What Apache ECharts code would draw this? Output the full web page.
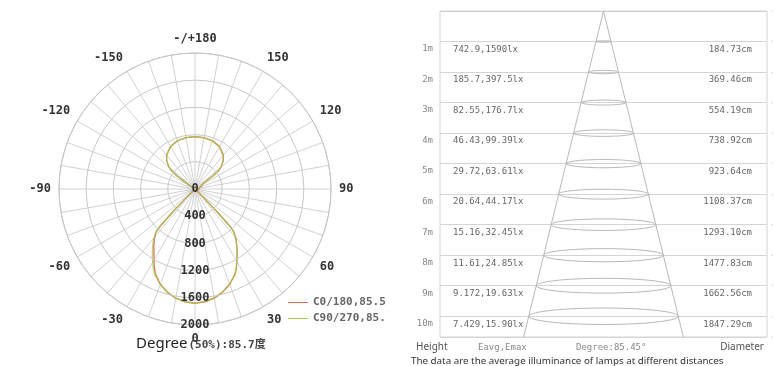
<!DOCTYPE html>
<html>
<head>
<meta charset="utf-8">
<script src="https://cdn.jsdelivr.net/npm/echarts@6/dist/echarts.min.js"></script>
<style>
  html, body { margin: 0; padding: 0; background: #fff; }
  #chart { width: 774px; height: 366px; }
</style>
</head>
<body>
<div id="chart"></div>
<script>
  // light distribution curve, 0 = straight down, positive = to the right
  const angles = [-180, -170, -160, -150, -140, -135, -130, -128, -126, -124, -122, -110, -90, -70, -50,
    -48, -46, -45, -44, -43, -42, -39, -36, -32, -28, -25, -20, -15, -10, -5, 0,
    5, 10, 15, 20, 25, 28, 32, 36, 39, 42, 43, 44, 45, 46, 48,
    50, 70, 90, 110, 122, 124, 126, 128, 130, 135, 140, 150, 160, 170, 180]
  const c0 = [770, 768, 755, 720, 650, 590, 500, 440, 330, 150, 0, 0, 0, 0, 0,
    0, 40, 200, 500, 780, 860, 950, 1030, 1140, 1280, 1380, 1490, 1570, 1630, 1665, 1680,
    1665, 1630, 1570, 1490, 1390, 1300, 1170, 1050, 960, 860, 780, 500, 200, 40, 0,
    0, 0, 0, 0, 0, 150, 330, 440, 500, 590, 650, 720, 755, 768, 770]
  const c90 = [770, 768, 755, 720, 650, 590, 500, 440, 330, 150, 0, 0, 0, 0, 0,
    0, 40, 200, 500, 780, 860, 975, 1065, 1185, 1310, 1395, 1495, 1575, 1630, 1665, 1680,
    1660, 1625, 1565, 1485, 1385, 1295, 1165, 1045, 955, 855, 770, 490, 190, 30, 0,
    0, 0, 0, 0, 0, 140, 320, 435, 495, 585, 645, 715, 750, 763, 765]
  const seriesNames = ['C0/180,85.5', 'C90/270,85.']

  // illuminance at distance
  const heights = [1, 2, 3, 4, 5, 6, 7, 8, 9, 10]
  const eavg = ['742.9', '185.7', '82.55', '46.43', '29.72', '20.64', '15.16', '11.61', '9.172', '7.429']
  const emax = ['1590', '397.5', '176.7', '99.39', '63.61', '44.17', '32.45', '24.85', '19.63', '15.90']
  const diameters = [184.73, 369.46, 554.19, 738.92, 923.64, 1108.37, 1293.10, 1477.83, 1662.56, 1847.29]

  const mono = '"DejaVu Sans Mono", "Liberation Mono", monospace'
  const sans = '"Noto Sans", "Open Sans", "Noto Sans CJK SC", sans-serif'
  const depth = 10.68

  const coneR = diameters[9] / 2 / heights[9] * depth

  let myChart = echarts.init(document.getElementById('chart'))
  myChart.setOption({
    backgroundColor: '#fff',
    animation: false,
    title: [
      {
        text: '{a|Degree}{b|(50%):85.7度}',
        left: 131,
        top: 331,
        textStyle: {
          rich: {
            a: { fontFamily: sans, fontSize: 15, fontWeight: 'normal', color: '#222' },
            b: { fontFamily: mono + ', "Noto Sans CJK SC"', fontSize: 11, fontWeight: 'bold', color: '#444', padding: [4, 0, 0, 1] }
          }
        }
      },
      { text: 'Height', left: 411, top: 337, textStyle: { fontFamily: sans, fontSize: 10, fontWeight: 'normal', color: '#555' } },
      { text: 'Eavg,Emax', left: 473, top: 338, textStyle: { fontFamily: mono, fontSize: 9, fontWeight: 'normal', color: '#888' } },
      { text: 'Degree:85.45°', left: 571, top: 338, textStyle: { fontFamily: mono, fontSize: 9, fontWeight: 'normal', color: '#888' } },
      { text: 'Diameter', right: 5, top: 337, textStyle: { fontFamily: sans, fontSize: 10, fontWeight: 'normal', color: '#555' } },
      { text: 'The data are the average illuminance of lamps at different distances', left: 406, top: 351, textStyle: { fontFamily: sans, fontSize: 9.8, fontWeight: 'normal', color: '#333' } }
    ],
    legend: {
      orient: 'vertical',
      left: 283,
      top: 292,
      itemWidth: 20,
      itemHeight: 1,
      itemGap: 5,
      icon: 'rect',
      data: seriesNames,
      textStyle: { fontFamily: mono, fontSize: 11, fontWeight: 'bold', color: '#666' }
    },
    polar: {
      center: [195, 189],
      radius: 136
    },
    angleAxis: {
      type: 'value',
      min: 0,
      max: 360,
      interval: 10,
      startAngle: 270,
      clockwise: false,
      axisLine: { lineStyle: { color: '#c4c4c4' } },
      axisTick: { show: false },
      splitLine: { lineStyle: { color: '#d2d2d2', width: 1 } },
      axisLabel: {
        margin: 8,
        fontFamily: mono,
        fontSize: 12,
        fontWeight: 'bold',
        color: '#333',
        formatter: function (v) {
          if (v % 30 !== 0 || v === 360) return ''
          if (v === 180) return '-/+180'
          return v > 180 ? String(v - 360) : String(v)
        }
      }
    },
    radiusAxis: {
      type: 'value',
      min: 0,
      max: 2000,
      interval: 400,
      z: 10,
      axisLine: { show: false },
      axisTick: { show: false },
      splitLine: { lineStyle: { color: '#c8c8c8' } },
      axisLabel: {
        margin: 0,
        align: 'center',
        verticalAlign: 'middle',
        fontFamily: mono,
        fontSize: 12,
        fontWeight: 'bold',
        color: '#333',
        formatter: function (v) { return String(v) }
      }
    },
    grid: {
      left: 440,
      top: 11,
      right: 7,
      bottom: 29,
      show: true,
      borderColor: '#d4d4d4',
      borderWidth: 1
    },
    xAxis: {
      type: 'value',
      min: -2020,
      max: 2020,
      show: false
    },
    yAxis: [
      {
        type: 'value',
        inverse: true,
        min: 0,
        max: depth,
        interval: 1,
        axisLine: { show: false },
        axisTick: { show: false },
        splitLine: { lineStyle: { color: '#d4d4d4' } },
        axisLabel: {
          margin: 7,
          verticalAlign: 'top',
          padding: [3, 0, 0, 0],
          fontFamily: mono,
          fontSize: 9,
          color: '#888',
          formatter: function (v) {
            return heights.indexOf(v) >= 0 ? v + 'm' : ''
          }
        }
      },
      {
        type: 'value',
        inverse: true,
        position: 'right',
        offset: 4,
        min: 0,
        max: depth,
        interval: 1,
        axisLine: { show: false },
        axisTick: { show: true, length: 2, lineStyle: { color: '#ddd' } },
        axisLabel: { show: false },
        splitLine: { show: false }
      }
    ],
    series: [
      {
        name: seriesNames[0],
        type: 'line',
        coordinateSystem: 'polar',
        showSymbol: false,
        color: '#e86a5a',
        lineStyle: { width: 1.3 },
        data: angles.map((a, i) => [c0[i], (a + 360) % 360])
      },
      {
        name: seriesNames[1],
        type: 'line',
        coordinateSystem: 'polar',
        showSymbol: false,
        color: '#9ccf4e',
        lineStyle: { width: 1.3, opacity: 0.75 },
        data: angles.map((a, i) => [c90[i], (a + 360) % 360])
      },
      {
        type: 'line',
        xAxisIndex: 0,
        yAxisIndex: 0,
        showSymbol: false,
        silent: true,
        lineStyle: { color: '#b8b8b8', width: 1 },
        data: [[-coneR, depth], [0, 0], [coneR, depth]]
      },
      {
        type: 'custom',
        xAxisIndex: 0,
        yAxisIndex: 0,
        data: heights.map((h, i) => [h, diameters[i]]),
        renderItem: function (params, api) {
          const h = api.value(0)
          const d = api.value(1)
          const c = api.coord([0, h])
          const rx = api.size([d / 2, 0])[0]
          const ry = rx * 0.11
          const pts = []
          for (let k = 0; k <= 60; k++) {
            const t = k / 60 * Math.PI * 2
            pts.push([c[0] + rx * Math.cos(t), c[1] + ry * Math.sin(t)])
          }
          const cs = params.coordSys
          const i = params.dataIndex
          return {
            type: 'group',
            children: [
              { type: 'polyline', shape: { points: pts }, style: { fill: null, stroke: '#b8b8b8', lineWidth: 1 } },
              {
                type: 'text', x: cs.x + 13, y: c[1] + 8,
                style: { text: eavg[i] + ',' + emax[i] + 'lx', fontFamily: mono, fontSize: 9, fill: '#666', verticalAlign: 'middle' }
              },
              {
                type: 'text', x: cs.x + cs.width - 15, y: c[1] + 8,
                style: { text: d.toFixed(2) + 'cm', fontFamily: mono, fontSize: 9, fill: '#666', align: 'right', verticalAlign: 'middle' }
              }
            ]
          }
        }
      }
    ]
  })
</script>
</body>
</html>
